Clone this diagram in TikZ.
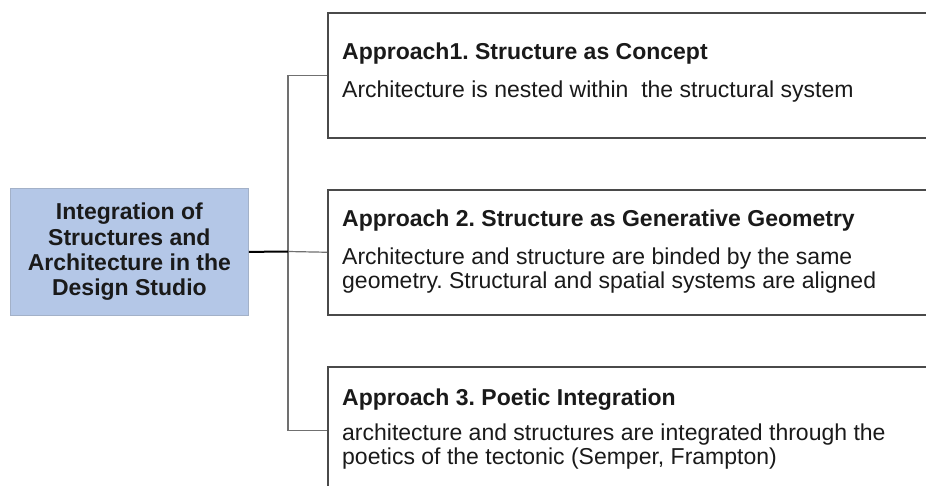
\documentclass[tikz,border=0pt]{standalone}
\usepackage{fontspec}
\setmainfont{Liberation Sans}
\frenchspacing
\definecolor{boxfill}{HTML}{B4C7E7}
\definecolor{boxedge}{HTML}{A3B1C8}
\definecolor{frame}{HTML}{4A4A4A}
\definecolor{conngray}{HTML}{707070}
\definecolor{txt}{HTML}{1A1A1A}
\tikzset{
  mainbox/.style={draw=boxedge, line width=0.8pt, fill=boxfill, align=center, text=txt,
    font=\fontsize{23}{25.3}\selectfont\bfseries, inner sep=0pt,
    minimum width=238pt, minimum height=127pt, anchor=north west},
  rbox/.style={draw=frame, line width=1.5pt, fill=white, minimum width=640pt, anchor=north west},
  ttl/.style={anchor=base west, inner sep=0pt, text=txt, font=\fontsize{23}{24}\selectfont\bfseries},
  body/.style={anchor=base west, inner sep=0pt, text=txt, font=\fontsize{23}{24}\selectfont},
  conn/.style={draw=conngray, line width=1.2pt},
  mainconn/.style={draw=black, line width=2pt}
}
\begin{document}
\begin{tikzpicture}[x=1pt,y=-1pt]
\useasboundingbox (0,0) rectangle (926,485);
\clip (0,0) rectangle (926,485);
\fill[white] (0,0) rectangle (926,485);

\node[mainbox] (main) at (10,188) {Integration of\\Structures and\\Architecture in the\\Design Studio};

\node[rbox, minimum height=125pt] (b1) at (327,12) {};
\node[rbox, minimum height=125pt] (b2) at (327,189) {};
\node[rbox, minimum height=128pt] (b3) at (327,366) {};

\node[ttl] (t1) at (342,59) {Approach1. Structure as Concept};
\node[body] (d1) at (342,97) {Architecture is nested within\ \ the structural system};

\node[ttl] (t2) at (342,226) {Approach 2. Structure as Generative Geometry};
\node[body] (d2a) at (342,264) {Architecture and structure are binded by the same};
\node[body] (d2b) at (342,288) {geometry. Structural and spatial systems are aligned};

\node[ttl] (t3) at (342,405) {Approach 3. Poetic Integration};
\node[body] (d3a) at (342,440) {architecture and structures are integrated through the};
\node[body] (d3b) at (342,464) {poetics of the tectonic (Semper, Frampton)};

\coordinate (j) at (288,251.5);
\draw[conn] (b1.west) -- (b1.west -| j) -- (b3.west -| j) -- (b3.west);
\draw[conn] (j) -- (b2.west);
\draw[mainconn] (main.east) -- (j);
\end{tikzpicture}
\end{document}
